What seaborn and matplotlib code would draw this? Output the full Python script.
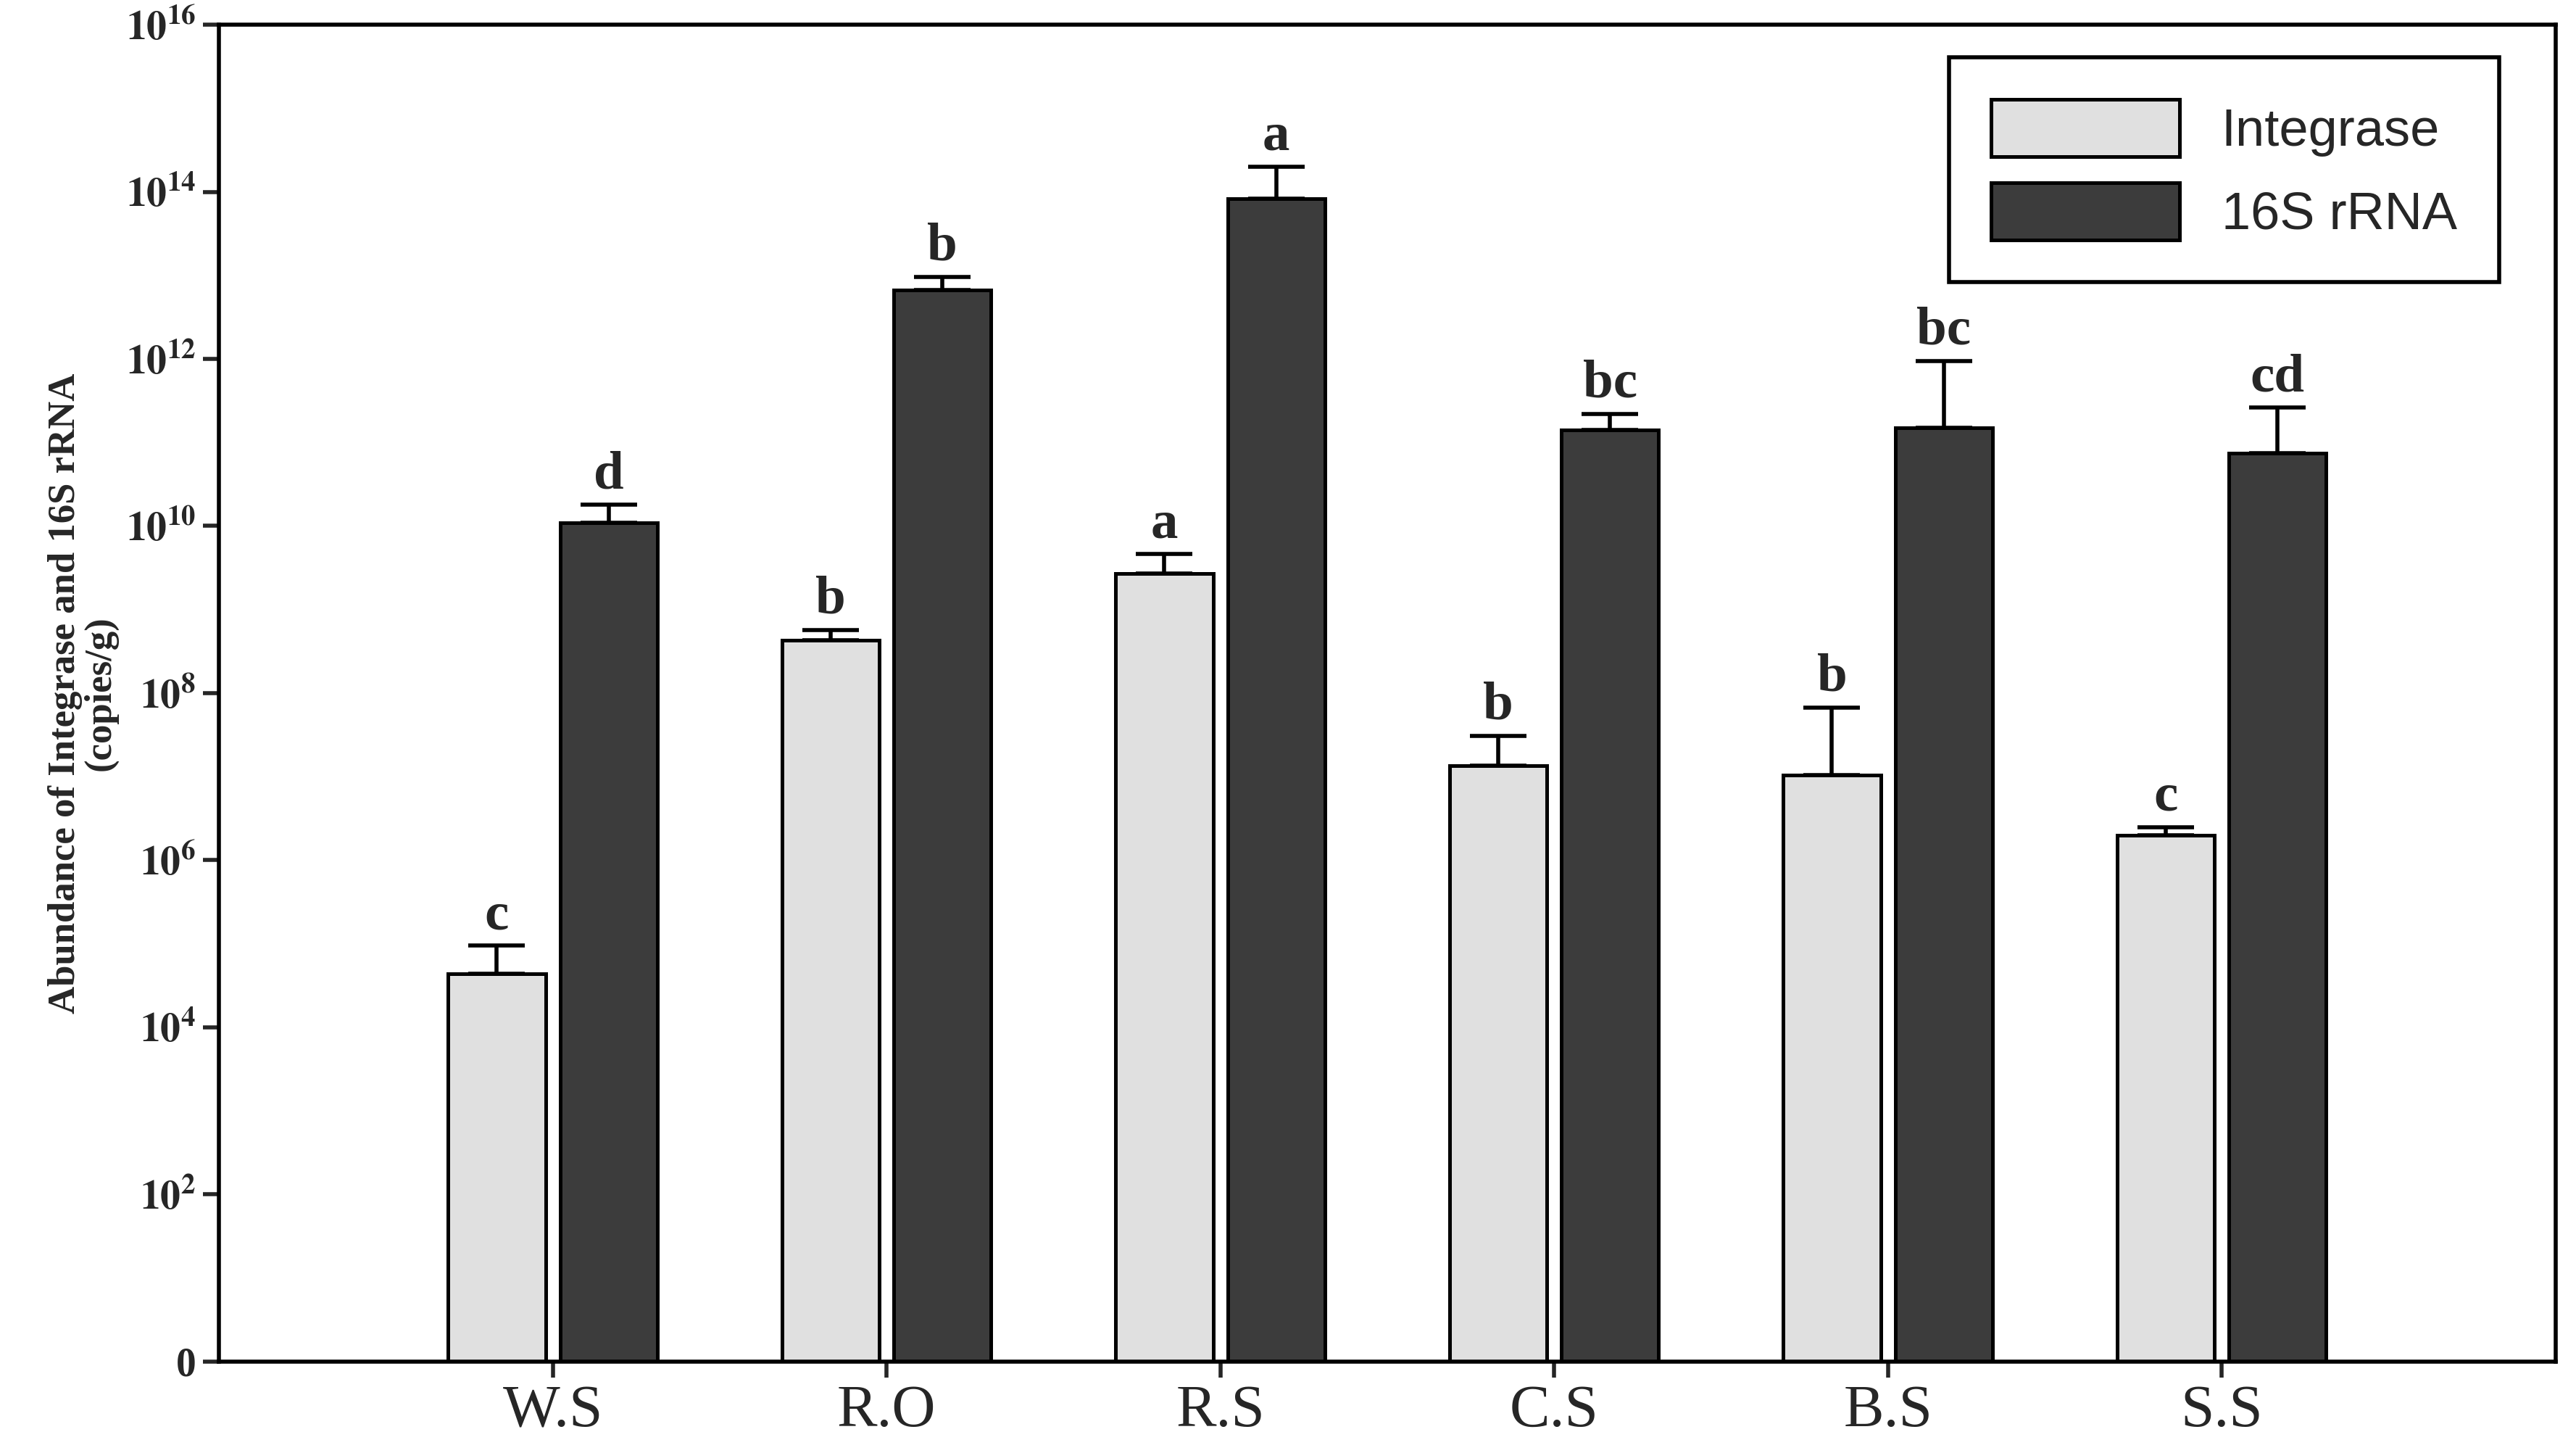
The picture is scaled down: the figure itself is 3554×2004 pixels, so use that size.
import numpy as np
import pandas as pd
import matplotlib
matplotlib.use("Agg")
import matplotlib.pyplot as plt
import seaborn as sns

sites = ["W.S", "R.O", "R.S", "C.S", "B.S", "S.S"]
integrase = [4.4e4, 4.3e8, 2.7e9, 1.35e7, 1.05e7, 2.0e6]
integrase_err_top = [9.5e4, 5.7e8, 4.6e9, 3.1e7, 6.7e7, 2.5e6]
rrna = [1.1e10, 6.7e12, 8.2e13, 1.4e11, 1.5e11, 7.4e10]
rrna_err_top = [1.8e10, 9.6e12, 2.0e14, 2.2e11, 9.5e11, 2.6e11]
integrase_letters = ["c", "b", "a", "b", "b", "c"]
rrna_letters = ["d", "b", "a", "bc", "bc", "cd"]

sns.set_theme(style="white")
plt.rcParams["font.family"] = ["Liberation Serif", "DejaVu Serif"]
plt.rcParams["mathtext.fontset"] = "stix"

df = pd.DataFrame({
    "site": sites * 2,
    "gene": ["Integrase"] * 6 + ["16S rRNA"] * 6,
    "value": integrase + rrna,
})

fig, ax = plt.subplots(figsize=(17.77, 10.02), dpi=200)
sns.barplot(data=df, x="site", y="value", hue="gene", order=sites,
            hue_order=["Integrase", "16S rRNA"],
            palette=["#e0e0e0", "#3c3c3c"], width=0.67, gap=0.13,
            errorbar=None, edgecolor="black", linewidth=1.8, ax=ax)
ax.set_yscale("log")
ax.set_ylim(1, 1e16)
ax.set_xlim(-1, 6)

# upward-only error bars and significance letters
bars = ax.patches[:12]
tops = integrase_err_top + rrna_err_top
vals = integrase + rrna
letters = integrase_letters + rrna_letters
for b, v, t, lt in zip(bars, vals, tops, letters):
    xc = b.get_x() + b.get_width() / 2
    ax.errorbar(xc, v, yerr=[[0], [t - v]], fmt="none", ecolor="black",
                elinewidth=2, capsize=14, capthick=2)
    ax.text(xc, t * 1.15, lt, ha="center", va="bottom", fontsize=27,
            fontweight="bold")

yt = [10.0 ** k for k in range(0, 17, 2)]
ax.set_yticks(yt)
ax.set_yticklabels(["0"] + [r"$\mathbf{10^{%d}}$" % k for k in range(2, 17, 2)],
                   fontsize=20, fontweight="bold")
ax.minorticks_off()
ax.tick_params(axis="y", which="major", left=True, length=8, width=2)
ax.tick_params(axis="x", bottom=True, length=8, width=2, labelsize=30)
ax.set_xlabel("")
ax.set_ylabel("Abundance of Integrase and 16S rRNA\n(copies/g)", fontsize=19,
              fontweight="bold", linespacing=1.0)
for s in ax.spines.values():
    s.set_linewidth(2)
    s.set_color("black")

leg = ax.legend(loc="upper right", bbox_to_anchor=(0.987, 0.995), fancybox=False,
                edgecolor="black", framealpha=1, handlelength=3.6, handleheight=1.3,
                borderpad=0.8, prop={"family": "Liberation Sans", "size": 26})
leg.get_frame().set_linewidth(2)

fig.subplots_adjust(left=0.085, right=0.992, top=0.983, bottom=0.063)
fig.savefig("out.png", dpi=200)
